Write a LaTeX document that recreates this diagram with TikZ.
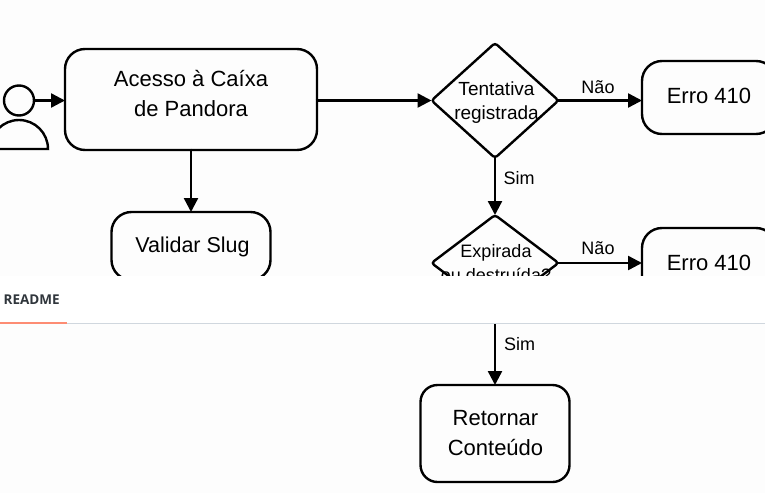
\documentclass[tikz,border=0pt]{standalone}
\usepackage{fontspec}
\setmainfont{Liberation Sans}
\newfontfamily\tabfont{Open Sans}
\usepackage{tikz}
\usetikzlibrary{arrows.meta,shapes.geometric}
\newcommand{\clrline}{black}
\definecolor{clrback}{HTML}{FDFDFD}
\definecolor{clrrule}{HTML}{D0D7DE}
\definecolor{clrtab}{HTML}{FD8C73}
\definecolor{clrtabtext}{HTML}{30363C}
\tikzset{
    stepbox/.style={draw=\clrline, line width=2.4pt, rounded corners=20pt, inner sep=0pt, outer sep=0pt},
    steptext/.style={align=center, font=\fontsize{22}{29.5}\selectfont, inner sep=0pt},
    choice/.style={draw=\clrline, line width=2.4pt, diamond, rounded corners=3pt, inner sep=0pt, outer sep=0pt, minimum width=127pt, minimum height=115pt},
    choicetext/.style={align=center, font=\fontsize{19}{24}\selectfont, inner sep=0pt},
    tag/.style={font=\fontsize{18}{20}\selectfont, inner sep=0pt},
    flow/.style={draw=\clrline, line width=2.4pt, shorten <=-1.5pt, -{Triangle[length=14pt,width=14pt]}}
}

\begin{document}
\begin{tikzpicture}[x=1pt, y=-1pt]
    \useasboundingbox (0,0) rectangle (765,493);
    \fill[clrback] (0,0) rectangle (765,493);

    %person at the left
        \node[circle, draw=\clrline, line width=2.4pt, minimum size=30pt, inner sep=0pt, outer sep=0pt] (head) at (19,100.5) {};
        \draw[\clrline, line width=2.4pt] (-10,149) arc[start angle=180, end angle=360, x radius=29, y radius=29] -- cycle;

    %boxes
        \node[stepbox, minimum width=252pt, minimum height=101pt] (acesso) at (191,99.5) {};
        \node[steptext] (acessotext) at (191,93.5) {Acesso à Caíxa\\de Pandora};
        \node[stepbox, minimum width=159pt, minimum height=68pt] (slug) at (191,246) {};
        \node[steptext, font=\fontsize{21.5}{26}\selectfont] (slugtext) at (192.5,247) {Validar Slug};
        \node[stepbox, minimum width=134pt, minimum height=73pt] (erro1) at (709,97.5) {};
        \node[steptext] (erro1text) at (709,95.5) {Erro 410};
        \node[stepbox, minimum width=134pt, minimum height=69pt] (erro2) at (709,262.5) {};
        \node[steptext] (erro2text) at (709,262.5) {Erro 410};
        \node[stepbox, rounded corners=17pt, minimum width=149pt, minimum height=97pt] (retorno) at (495,433.5) {};
        \node[steptext] (retornotext) at (495.5,433) {Retornar\\Conteúdo};

    %diamonds, text goes on top because it runs over the edge
        \node[choice] (tent) at (495,100.5) {};
        \node[choicetext] (tenttext) at (496.5,103) {Tentativa\\registrada};
        \node[choice, minimum height=96pt] (exp) at (495,263) {};
        \node[choicetext, font=\fontsize{18}{24}\selectfont] (exptext) at (496,263.5) {Expirada\\ou destruída?};

    %arrows
        \draw[flow] (head) -- (head -| acesso.west);
        \draw[flow] (acesso) -- (slug);
        \draw[flow] (acesso.east |- tent) -- (tent);
        \draw[flow] (tent) -- (tent -| erro1.west);
        \draw[flow] (tent) -- (exp);
        \draw[flow] (exp) -- (exp -| erro2.west);
        \draw[flow] (exp) -- (retorno);

    %labels on arrows
        \node[tag] (nao1) at (598,87) {Não};
        \node[tag] (sim1) at (519,178) {Sim};
        \node[tag] (nao2) at (598,248) {Não};
        \node[tag] (sim2) at (519.5,344) {Sim};

    %tab bar over the picture
        \fill[white] (0,276) rectangle (765,323);
        \draw[clrrule, line width=1pt] (0,323.5) -- (765,323.5);
        \draw[clrtab, line width=2pt] (0,323) -- (67,323);
        \node[anchor=west, inner sep=0pt, text=clrtabtext, font=\tabfont\fontsize{13.5}{15}\selectfont\bfseries] (readme) at (3.5,300) {README};
\end{tikzpicture}
\end{document}
